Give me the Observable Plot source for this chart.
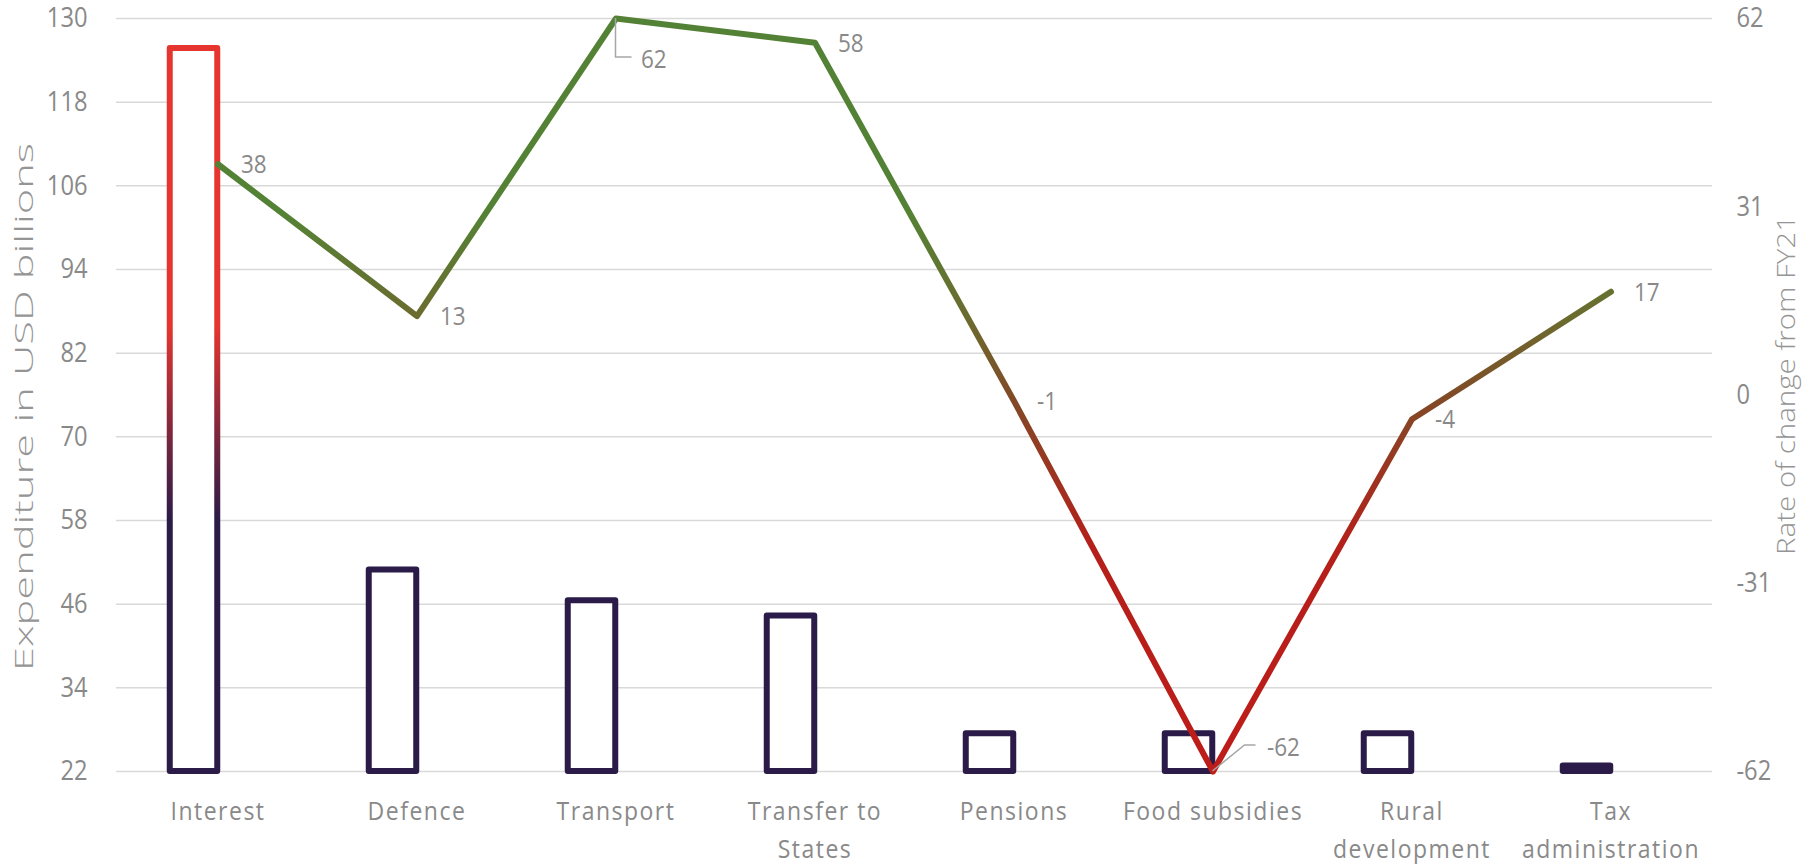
<!DOCTYPE html>
<html><head><meta charset="utf-8">
<script src="https://cdn.jsdelivr.net/npm/d3@7"></script>
<script src="https://cdn.jsdelivr.net/npm/@observablehq/plot@0.6"></script>
<style>html,body{margin:0;padding:0;background:#fff;} #chart{width:1809px;height:865px;overflow:hidden;}</style>
</head><body><div id="chart"></div>
<script>
// ---- data ----
const categories = ["Interest","Defence","Transport","Transfer to States","Pensions","Food subsidies","Rural development","Tax administration"];
const categoryLabels = ["Interest","Defence","Transport","Transfer to\nStates","Pensions","Food subsidies","Rural\ndevelopment","Tax\nadministration"];
const expenditure = [125.7, 50.9, 46.5, 44.3, 27.4, 27.4, 27.4, 22.8];
const rateOfChange = [38, 13, 62, 58, -1, -62, -4, 17];
const leftTicks = [22, 34, 46, 58, 70, 82, 94, 106, 118, 130];
const rightTicks = [-62, -31, 0, 31, 62];
const leftDomain = [22, 130];
const rightDomain = [-62, 62];
const leftTitle = "Expenditure in USD billions";
const rightTitle = "Rate of change from FY21";

// ---- layout ----
const W = 1809, H = 865, mL = 116, mR = 97, mT = 18, mB = 94;
const bw = (W - mL - mR) / categories.length;
const toLeft = r => leftDomain[0] + (r - rightDomain[0]) / (rightDomain[1] - rightDomain[0]) * (leftDomain[1] - leftDomain[0]);
const toRight = v => rightDomain[0] + (v - leftDomain[0]) / (leftDomain[1] - leftDomain[0]) * (rightDomain[1] - rightDomain[0]);

const rows = categories.map((c, i) => ({cat: c, label: categoryLabels[i], exp: expenditure[i], rate: rateOfChange[i], ry: toLeft(rateOfChange[i])}));
const rMax = d3.max(rateOfChange), rMin = d3.min(rateOfChange);
const normalLabels = rows.filter(d => d.rate !== rMax && d.rate !== rMin);
const topLabel = rows.filter(d => d.rate === rMax);
const bottomLabel = rows.filter(d => d.rate === rMin);

const textGray = "#898989";
const barColor = "#2b1b48";

const plot = Plot.plot({
  width: W, height: H,
  marginLeft: mL, marginRight: mR, marginTop: mT, marginBottom: mB,
  style: {fontFamily: "'Open Sans', sans-serif", background: "#fff", overflow: "visible"},
  x: {type: "band", domain: categories, padding: 0, axis: null},
  y: {domain: leftDomain, axis: null},
  marks: [
    Plot.gridY(leftTicks, {stroke: "#d9d9d9", strokeOpacity: 1, strokeWidth: 1.5}),
    Plot.axisY(leftTicks, {anchor: "left", tickSize: 0, tickPadding: 29, fontSize: 23.7, label: null, color: textGray}),
    Plot.axisY(rightTicks.map(toLeft), {anchor: "right", tickSize: 0, tickPadding: 24, fontSize: 23.7, label: null, color: textGray,
      tickFormat: v => String(Math.round(toRight(v)))}),
    Plot.barY(rows, {x: "cat", y1: leftDomain[0], y2: "exp", insetLeft: bw / 2 - 48, insetRight: bw / 2,
      fill: "white", stroke: barColor, strokeWidth: 6, strokeLinejoin: "round"}),
    Plot.line(rows, {x: "cat", y: "ry", stroke: "#548235", strokeWidth: 6, strokeLinejoin: "round", strokeLinecap: "round"}),
    Plot.text(normalLabels, {x: "cat", y: "ry", text: d => String(d.rate), dx: 23, dy: 1, textAnchor: "start", fontSize: 22.5, fill: textGray}),
    Plot.text(topLabel, {x: "cat", y: "ry", text: d => String(d.rate), dx: 25, dy: 42, textAnchor: "start", fontSize: 22.5, fill: textGray}),
    Plot.text(bottomLabel, {x: "cat", y: "ry", text: d => String(d.rate), dx: 54, dy: -23, textAnchor: "start", fontSize: 22.5, fill: textGray}),
    Plot.text(rows, {x: "cat", text: "label", frameAnchor: "bottom", lineAnchor: "top", dy: 22, lineHeight: 1.47, fontSize: 23, fill: textGray})
  ]
});

document.getElementById("chart").appendChild(plot);
const svg = d3.select(plot);
const xs = plot.scale("x"), ys = plot.scale("y");
const cx = c => xs.apply(c) + xs.bandwidth / 2;
const cy = v => ys.apply(v);

// gradients
const defs = svg.insert("defs", ":first-child");
const bg = defs.append("linearGradient").attr("id", "barGrad").attr("gradientUnits", "userSpaceOnUse")
  .attr("x1", 0).attr("x2", 0).attr("y1", cy(86)).attr("y2", cy(58));
bg.append("stop").attr("offset", 0).attr("stop-color", "#e6352f");
bg.append("stop").attr("offset", 1).attr("stop-color", barColor);

const lg = defs.append("linearGradient").attr("id", "lineGrad").attr("gradientUnits", "userSpaceOnUse")
  .attr("x1", 0).attr("x2", 0).attr("y1", cy(toLeft(62))).attr("y2", cy(toLeft(-62)));
[[62, "#538135"], [30, "#548235"], [12, "#6c6a2e"], [0, "#804b27"], [-25, "#b51f1a"], [-62, "#be1d19"]]
  .forEach(([r, c]) => lg.append("stop").attr("offset", (62 - r) / 124).attr("stop-color", c));

svg.select("g[aria-label='bar'] rect").attr("stroke", "url(#barGrad)");
svg.selectAll("g[aria-label='line'] path").attr("stroke", "url(#lineGrad)");

// vertical stretch of horizontal texts
const stretch = (sel, k) => sel.each(function() {
  const t = this.getAttribute("transform") || "";
  this.setAttribute("transform", t + ` scale(1,${k})`);
});
stretch(svg.selectAll("g[aria-label='y-axis tick label'] text"), 1.18);
const textGroups = svg.selectAll("g[aria-label='text']").nodes();
textGroups.slice(0, 3).forEach(g => stretch(d3.select(g).selectAll("text"), 1.1));
if (textGroups[3]) {
  stretch(d3.select(textGroups[3]).selectAll("text"), 1.12);
  d3.select(textGroups[3]).style("letter-spacing", "1.5px");
}

// leader lines
const leaders = svg.append("g").attr("fill", "none").attr("stroke", "#a6a6a6").attr("stroke-width", 1.5);
topLabel.forEach(d => {
  const px = cx(d.cat), py = cy(d.ry);
  leaders.append("path").attr("d", `M${px},${py}V${py + 39}H${px + 16}`);
});
bottomLabel.forEach(d => {
  const px = cx(d.cat), py = cy(d.ry);
  leaders.append("path").attr("d", `M${px},${py}L${px + 32},${py - 26}H${px + 43}`);
});

// axis titles
svg.append("text").text(leftTitle)
  .attr("transform", `translate(33,407) rotate(-90)`)
  .attr("text-anchor", "middle").attr("font-size", 26).attr("font-weight", 300)
  .attr("fill", "#959595").attr("textLength", 528).attr("lengthAdjust", "spacingAndGlyphs");
svg.append("text").text(rightTitle)
  .attr("transform", `translate(1795,385) rotate(-90)`)
  .attr("text-anchor", "middle").attr("font-size", 26).attr("font-weight", 300)
  .attr("fill", "#959595").attr("textLength", 340).attr("lengthAdjust", "spacingAndGlyphs");
</script>
</body></html>
